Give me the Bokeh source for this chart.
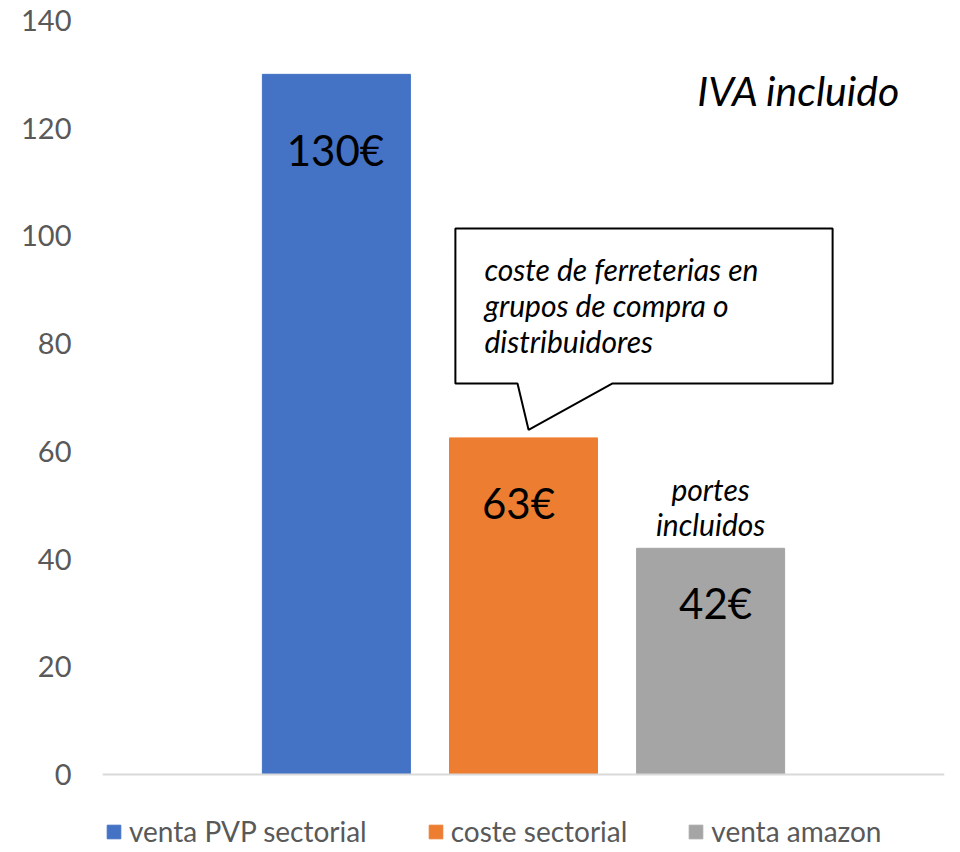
from bokeh.plotting import figure
from bokeh.models import ColumnDataSource, Range1d, FixedTicker, Span
from bokeh.core.properties import value
from bokeh.embed import file_html
from bokeh.resources import INLINE

# ---- data ----
series = ["venta PVP sectorial", "coste sectorial", "venta amazon"]
values = [130, 62.5, 42]
bar_labels = ["130€", "63€", "42€"]
colors = ["#4472C4", "#ED7D31", "#A5A5A5"]
y_ticks = [0, 20, 40, 60, 80, 100, 120, 140]
note_lines = ["coste de ferreterias en", "grupos de compra o", "distribuidores"]
portes_lines = ["portes", "incluidos"]
iva_text = "IVA incluido"

FONT = "Lato"

# ---- layout ----
W, H = 952, 852
B_LEFT, B_RIGHT, B_TOP, B_BOTTOM = 102, 8, 12, 0
frame_w = W - B_LEFT - B_RIGHT
frame_h = H - B_TOP - B_BOTTOM
ppu = 754 / 140.0                  # pixels per y unit
y_end = 140 + 8 / ppu
y_start = y_end - frame_h / ppu
x_half = 2.25
xpu = frame_w / (2 * x_half)       # pixels per x unit

p = figure(width=W, height=H, output_backend="svg", toolbar_location=None,
           x_range=Range1d(-x_half, x_half), y_range=Range1d(y_start, y_end),
           min_border_left=B_LEFT, min_border_right=B_RIGHT,
           min_border_top=B_TOP, min_border_bottom=B_BOTTOM)
p.outline_line_color = None
p.xgrid.visible = False
p.ygrid.visible = False
p.xaxis.visible = False
p.background_fill_color = "white"
p.border_fill_color = "white"

yax = p.yaxis[0]
yax.ticker = FixedTicker(ticks=y_ticks)
yax.axis_line_color = None
yax.major_tick_line_color = None
yax.minor_tick_line_color = None
yax.major_tick_out = 0
yax.major_tick_in = 0
yax.major_label_standoff = 31
yax.major_label_text_font = FONT
yax.major_label_text_font_size = "29px"
yax.major_label_text_color = "#595959"

# ---- bars ----
xs = [i - 1 for i in range(len(series))]
src = ColumnDataSource(dict(x=xs, top=values, color=colors, series=series))
p.vbar(x="x", top="top", width=148 / xpu, color="color", source=src,
       legend_field="series")

p.add_layout(Span(location=0, dimension="width", line_color="#D9D9D9", line_width=2))

# ---- bar value labels ----
label_offsets_px = [76, 65, 55]
label_dx_px = [-1, -5, 5]
label_x = [x + d / xpu for x, d in zip(xs, label_dx_px)]
label_y = [v - o / ppu for v, o in zip(values, label_offsets_px)]
p.text(x=label_x, y=label_y, text=bar_labels, text_align="center", text_baseline="middle",
       text_font=value(FONT), text_font_size="42px", text_color="black")

# ---- callout (anchored above the second bar) ----
cx, cy = xs[1], values[1]
box_l, box_r = cx - 0.364, cx + 1.652
box_b, box_t = cy + 10.1, cy + 38.9
tail_l, tail_r = cx - 0.032, cx + 0.476
tip_x, tip_y = cx + 0.027, cy + 1.5
p.patch(x=[box_l, box_r, box_r, tail_r, tip_x, tail_l, box_l],
        y=[box_t, box_t, box_b, box_b, tip_y, box_b, box_b],
        fill_color="white", line_color="black", line_width=2)
note_x = box_l + 29 / xpu
note_y = [box_t - d / ppu for d in (41, 77, 113)]
p.text(x=[note_x] * 3, y=note_y, text=note_lines, text_align="left", text_baseline="middle",
       text_font=value(FONT), text_font_style="italic", text_font_size="30px",
       text_color="black")

# ---- "portes incluidos" above third bar ----
px3, v3 = xs[2], values[2]
portes_y = [v3 + d / ppu for d in (59, 24)]
p.text(x=[px3] * 2, y=portes_y, text=portes_lines, text_align="center", text_baseline="middle",
       text_font=value(FONT), text_font_style="italic", text_font_size="30px",
       text_color="black")

# ---- "IVA incluido" ----
p.text(x=[x_half - 44 / xpu], y=[y_end - 78 / ppu], text=[iva_text], text_align="right",
       text_baseline="middle", text_font=value(FONT), text_font_style="italic",
       text_font_size="41px", text_color="black")

# ---- legend ----
lg = p.legend[0]
lg.orientation = "horizontal"
lg.location = (3, 4)
lg.padding = 0
lg.margin = 0
lg.spacing = 60
lg.label_standoff = 7
lg.glyph_width = 17
lg.glyph_height = 17
lg.label_text_font = FONT
lg.label_text_font_size = "28px"
lg.label_text_color = "#595959"
lg.border_line_color = None
lg.background_fill_alpha = 0

open("out.html", "w").write(file_html(p, INLINE))
